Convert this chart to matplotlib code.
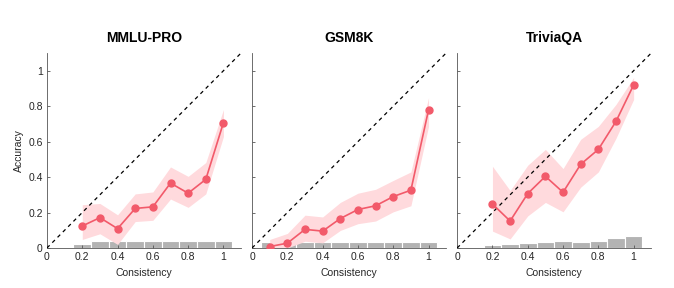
import matplotlib
matplotlib.use("Agg")
import matplotlib.pyplot as plt
import numpy as np

plt.rcParams['font.family'] = ['Liberation Sans', 'DejaVu Sans']

titles = ["MMLU-PRO", "GSM8K", "TriviaQA"]

# MMLU-PRO
x1 = [0.2, 0.3, 0.4, 0.5, 0.6, 0.7, 0.8, 0.9, 1.0]
acc1 = [0.124, 0.171, 0.109, 0.223, 0.232, 0.366, 0.309, 0.387, 0.707]
hi1 = [0.244, 0.251, 0.187, 0.305, 0.316, 0.457, 0.404, 0.482, 0.781]
lo1 = [0.048, 0.080, 0.020, 0.149, 0.156, 0.276, 0.229, 0.305, 0.629]
hx1 = [0.2, 0.3, 0.4, 0.5, 0.6, 0.7, 0.8, 0.9, 1.0]
hh1 = [0.020, 0.038, 0.038, 0.038, 0.038, 0.038, 0.038, 0.038, 0.038]

# GSM8K
x2 = [0.1, 0.2, 0.3, 0.4, 0.5, 0.6, 0.7, 0.8, 0.9, 1.0]
acc2 = [0.008, 0.027, 0.105, 0.095, 0.166, 0.217, 0.238, 0.290, 0.326, 0.779]
hi2 = [0.048, 0.082, 0.185, 0.175, 0.257, 0.309, 0.331, 0.381, 0.429, 0.848]
lo2 = [0.000, 0.000, 0.038, 0.029, 0.099, 0.137, 0.152, 0.204, 0.238, 0.686]
hx2 = [0.1, 0.2, 0.3, 0.4, 0.5, 0.6, 0.7, 0.8, 0.9, 1.0]
hh2 = [0.036, 0.036, 0.036, 0.036, 0.036, 0.036, 0.036, 0.036, 0.036, 0.036]

# TriviaQA
x3 = [0.2, 0.3, 0.4, 0.5, 0.6, 0.7, 0.8, 0.9, 1.0]
acc3 = [0.248, 0.152, 0.307, 0.404, 0.314, 0.472, 0.556, 0.714, 0.920]
hi3 = [0.461, 0.324, 0.467, 0.556, 0.448, 0.613, 0.686, 0.810, 0.962]
lo3 = [0.095, 0.051, 0.181, 0.257, 0.204, 0.343, 0.429, 0.619, 0.838]
hx3 = [0.1, 0.2, 0.3, 0.4, 0.5, 0.6, 0.7, 0.8, 0.9, 1.0]
hh3 = [0.008, 0.019, 0.025, 0.028, 0.032, 0.040, 0.036, 0.040, 0.057, 0.070]

data = [(x1, acc1, hi1, lo1, hx1, hh1),
        (x2, acc2, hi2, lo2, hx2, hh2),
        (x3, acc3, hi3, lo3, hx3, hh3)]

fig = plt.figure(figsize=(6.74, 2.88), dpi=100)
line_c = '#f25a6a'
band_c = '#ffdadd'
bar_c = '#b3b3b3'
txt_c = '#262626'

for i, (title, d) in enumerate(zip(titles, data)):
    x, acc, hi, lo, hx, hh = d
    ax = fig.add_axes([0.0697 + i * 0.3043, 0.139, 0.288, 0.677])
    ax.bar(hx, hh, width=0.1, color=bar_c, edgecolor='white', linewidth=0.8, zorder=1)
    ax.fill_between(x, lo, hi, color=band_c, linewidth=0, zorder=2)
    ax.plot([0, 1.1], [0, 1.1], color='black', linestyle=(0, (3, 3)), linewidth=0.9, zorder=3)
    ax.plot(x, acc, color=line_c, linewidth=1.2, marker='o', markersize=5, zorder=4)
    ax.set_xlim(0, 1.1)
    ax.set_ylim(0, 1.1)
    ax.set_xticks([0, 0.2, 0.4, 0.6, 0.8, 1])
    ax.set_xticklabels(['0', '0.2', '0.4', '0.6', '0.8', '1'])
    ax.set_yticks([0, 0.2, 0.4, 0.6, 0.8, 1])
    if i == 0:
        ax.set_yticklabels(['0', '0.2', '0.4', '0.6', '0.8', '1'])
        ax.set_ylabel('Accuracy', fontsize=7.5, color=txt_c, labelpad=3)
    else:
        ax.set_yticklabels([])
    ax.set_xlabel('Consistency', fontsize=7.5, color=txt_c, labelpad=4)
    ax.set_title(title, fontsize=10, fontweight='bold', pad=8)
    ax.tick_params(direction='in', length=2.5, width=0.6, labelsize=7.5,
                   colors=txt_c, pad=3)
    ax.tick_params(axis='both', colors='#555555', labelcolor=txt_c)
    for s in ['top', 'right']:
        ax.spines[s].set_visible(False)
    for s in ['left', 'bottom']:
        ax.spines[s].set_color('#555555')
        ax.spines[s].set_linewidth(0.6)

fig.savefig('out.png', dpi=100)
